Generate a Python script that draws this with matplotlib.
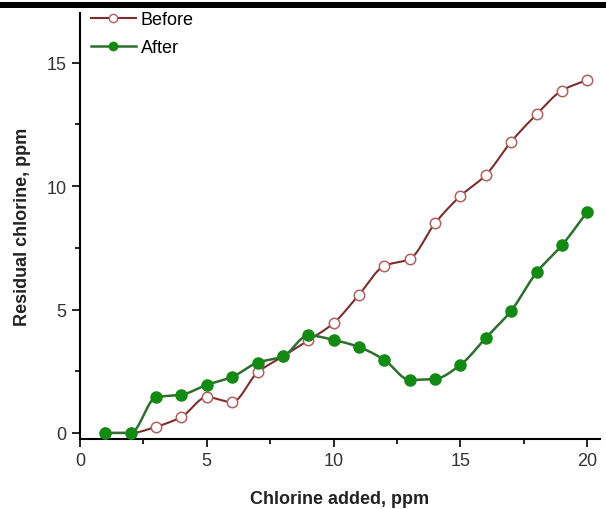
import numpy as np
import matplotlib
matplotlib.use("Agg")
import matplotlib.pyplot as plt
from matplotlib.lines import Line2D
from matplotlib.patches import Rectangle

chlorine_added = [1, 2, 3, 4, 5, 6, 7, 8, 9, 10, 11, 12, 13, 14, 15, 16, 17, 18, 19, 20]
before = [0.0, 0.0, 0.25, 0.65, 1.45, 1.25, 2.45, 3.1, 3.75, 4.45, 5.6, 6.77, 7.05, 8.5,
          9.6, 10.45, 11.8, 12.9, 13.87, 14.3]
after = [0.0, 0.0, 1.45, 1.55, 1.95, 2.27, 2.85, 3.1, 3.95, 3.77, 3.48, 2.96, 2.15, 2.19,
         2.76, 3.85, 4.95, 6.5, 7.6, 8.96]
series_labels = ["Before", "After"]
x_ticks = [0, 5, 10, 15, 20]
y_ticks = [0, 5, 10, 15]


def smooth_curve(x, y, n=600):
    """Monotone piecewise cubic (PCHIP) through the data points."""
    x = np.asarray(x, float)
    y = np.asarray(y, float)
    k = len(x)
    h = np.diff(x)
    delta = np.diff(y) / h
    m = np.zeros(k)
    for i in range(1, k - 1):
        if delta[i - 1] * delta[i] <= 0:
            m[i] = 0.0
        else:
            w1 = 2 * h[i] + h[i - 1]
            w2 = h[i] + 2 * h[i - 1]
            m[i] = (w1 + w2) / (w1 / delta[i - 1] + w2 / delta[i])
    m[0] = delta[0]
    m[-1] = delta[-1]
    xs = np.linspace(x[0], x[-1], n)
    idx = np.clip(np.searchsorted(x, xs, side="right") - 1, 0, k - 2)
    t = (xs - x[idx]) / h[idx]
    h00 = 2 * t ** 3 - 3 * t ** 2 + 1
    h10 = t ** 3 - 2 * t ** 2 + t
    h01 = -2 * t ** 3 + 3 * t ** 2
    h11 = t ** 3 - t ** 2
    ys = (h00 * y[idx] + h10 * h[idx] * m[idx] + h01 * y[idx + 1]
          + h11 * h[idx] * m[idx + 1])
    return xs, ys


plt.rcParams['font.family'] = ['Liberation Sans', 'DejaVu Sans']

fig = plt.figure(figsize=(6.06, 5.10), dpi=100)
ax = fig.add_axes([0.132, 0.137, 0.858, 0.835])

before_line = "#7a2e2e"
before_edge = "#b06060"
after_line = "#2e6e2e"
after_face = "#138a13"

xs, ys = smooth_curve(chlorine_added, before)
ax.plot(xs, ys, color=before_line, lw=1.5, zorder=2)
ax.plot(chlorine_added, before, linestyle="none", marker="o", ms=7.5,
        mfc="white", mec=before_edge, mew=1.1, zorder=3)

xs, ys = smooth_curve(chlorine_added, after)
ax.plot(xs, ys, color=after_line, lw=1.8, zorder=2)
ax.plot(chlorine_added, after, linestyle="none", marker="o", ms=8,
        mfc=after_face, mec=after_face, zorder=4)

ax.set_xlim(0, 20.5)
ax.set_ylim(-0.25, 17.0)
ax.set_xticks(x_ticks)
ax.set_yticks(y_ticks)
ax.set_xticks([2.5, 7.5, 12.5, 17.5], minor=True)
ax.set_yticks([2.5, 7.5, 12.5], minor=True)
ax.tick_params(axis="both", which="major", direction="out", length=6, width=1.2,
               labelsize=13, colors="black", labelcolor="#333333")
ax.tick_params(axis="both", which="minor", direction="out", length=3.5, width=1.2)
for s in ["top", "right"]:
    ax.spines[s].set_visible(False)
for s in ["left", "bottom"]:
    ax.spines[s].set_linewidth(1.5)

ax.set_xlabel("Chlorine added, ppm", fontsize=13, fontweight="bold", labelpad=15,
              color="#222222")
ax.set_ylabel("Residual chlorine, ppm", fontsize=13, fontweight="bold", labelpad=11,
              color="#222222")

handles = [
    Line2D([], [], color=before_line, lw=1.5, marker="o", ms=6, mfc="white",
           mec=before_edge),
    Line2D([], [], color=after_line, lw=1.8, marker="o", ms=6, mfc=after_face,
           mec=after_face),
]
ax.legend(handles, series_labels, loc="upper left", bbox_to_anchor=(0.0, 1.03),
          frameon=False, fontsize=13, handlelength=2.5, handletextpad=0.25,
          labelspacing=0.6, borderaxespad=0.2)

fig.add_artist(Rectangle((0, 1 - 9 / 510), 1, 6 / 510, transform=fig.transFigure,
                         color="black", lw=0))

fig.savefig("out.png", dpi=100)
